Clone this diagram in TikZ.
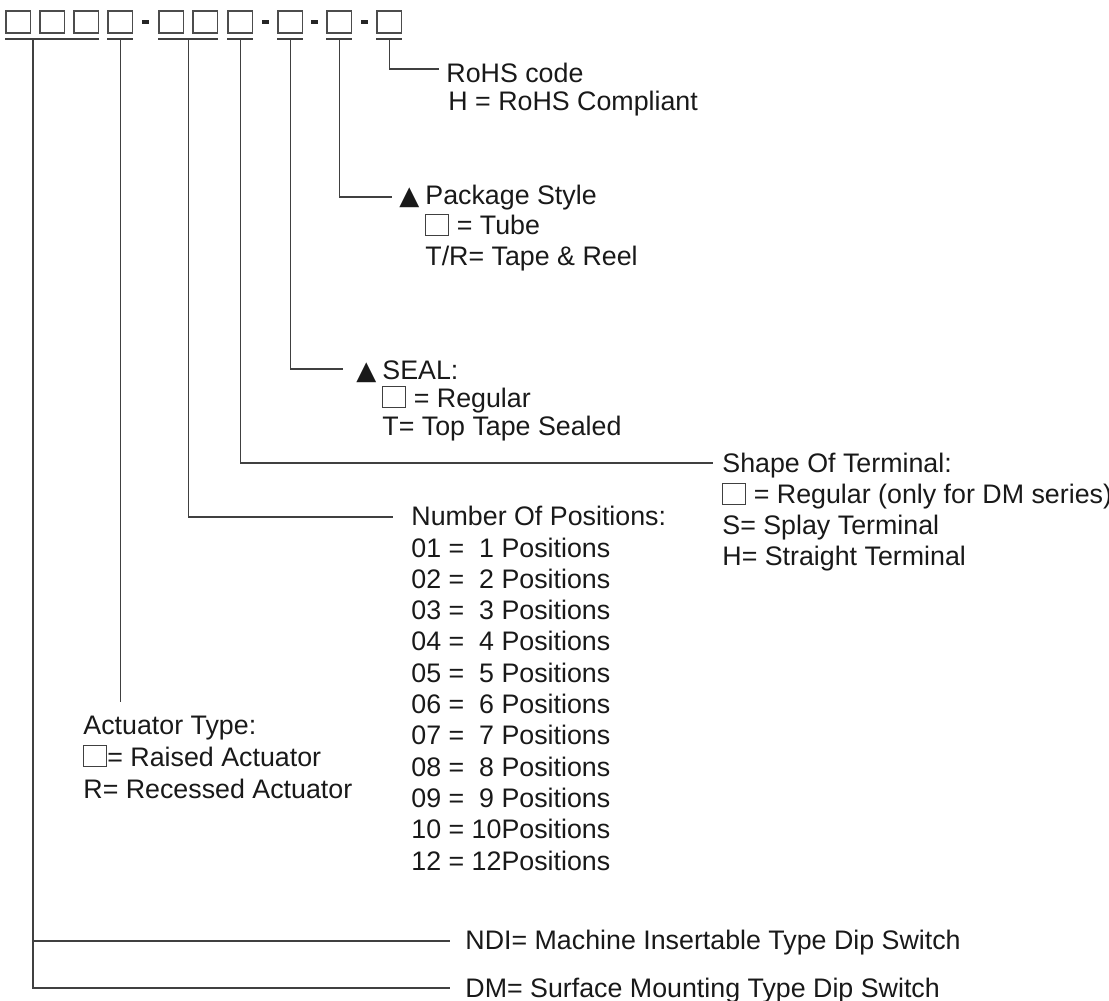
\documentclass[tikz,border=0pt]{standalone}
\usepackage{fontspec}
\setmainfont{Liberation Sans}
\newfontfamily\symfont{DejaVu Sans}
\usetikzlibrary{positioning, calc}

\newcommand{\codebox}{{\color{black!75}\setlength{\fboxsep}{0pt}\setlength{\fboxrule}{0.5pt}\fbox{\rule{0pt}{9.8pt}\hspace{11pt}}}}
\newcommand{\tri}{\llap{{\symfont\fontsize{13}{13}\selectfont ▲}\hspace{3pt}}}

\begin{document}
\begin{tikzpicture}[x=0.5pt, y=-0.5pt,
        cell/.style={draw=black!70, line width=0.6pt, rectangle, minimum width=12.25pt, minimum height=11pt, inner sep=0pt},
        hyph/.style={fill=black!85, rectangle, minimum width=3.3pt, minimum height=1.6pt, inner sep=0pt},
        lead/.style={draw=black!75, line width=0.75pt},
        txt/.style={anchor=base west, align=left, inner sep=0pt, text=black!90, font=\fontsize{13.4}{15.6}\selectfont}
    ]
    \useasboundingbox (0,0) rectangle (1109,1001);

    % --- Code cells ---
    \node[cell] (c1) at (18.25, 22) {};
    \node[cell] (c2) at (52.25, 22) {};
    \node[cell] (c3) at (86.25, 22) {};
    \node[cell] (c4) at (120.25, 22) {};
    \node[cell] (c5) at (171.25, 22) {};
    \node[cell] (c6) at (205.25, 22) {};
    \node[cell] (c7) at (240.25, 22) {};
    \node[cell] (c8) at (290.25, 22) {};
    \node[cell] (c9) at (339.25, 22) {};
    \node[cell] (c10) at (389.25, 22) {};

    % --- Hyphens ---
    \path (c4) -- (c5) node[midway, hyph] (h1) {};
    \path (c7) -- (c8) node[midway, hyph] (h2) {};
    \path (c8) -- (c9) node[midway, hyph] (h3) {};
    \path (c9) -- (c10) node[midway, hyph] (h4) {};

    % --- Underlines ---
    \coordinate (ul) at (0, 39);
    \draw[lead] (c1.west |- ul) -- (c3.east |- ul);
    \draw[lead] (c4.west |- ul) -- (c4.east |- ul);
    \draw[lead] (c5.west |- ul) -- (c6.east |- ul);
    \draw[lead] (c7.west |- ul) -- (c7.east |- ul);
    \draw[lead] (c8.west |- ul) -- (c8.east |- ul);
    \draw[lead] (c9.west |- ul) -- (c9.east |- ul);
    \draw[lead] (c10.west |- ul) -- (c10.east |- ul);

    % --- Labels (anchored at the last baseline) ---
    \node[txt, font=\fontsize{13.4}{14}\selectfont] (rohs) at (446, 110) {RoHS code\\\hspace{1pt}H = RoHS Compliant};
    \node[txt, font=\fontsize{13.4}{15.25}\selectfont] (pkg) at (425, 265) {\tri Package Style\\\codebox\ = Tube\\T/R= Tape \& Reel};
    \node[txt, font=\fontsize{13.4}{14}\selectfont] (seal) at (382, 435) {\tri SEAL:\\\codebox\ = Regular\\T= Top Tape Sealed};
    \node[txt, font=\fontsize{13.4}{15.35}\selectfont] (term) at (722, 565) {Shape Of Terminal:\\\codebox\ = Regular (only for DM series)\\S= Splay Terminal\\H= Straight Terminal};
    \node[txt, font=\fontsize{13.4}{15.65}\selectfont] (npos) at (411, 870) {Number Of Positions:\\01 =\ \ 1 Positions\\02 =\ \ 2 Positions\\03 =\ \ 3 Positions\\04 =\ \ 4 Positions\\05 =\ \ 5 Positions\\06 =\ \ 6 Positions\\07 =\ \ 7 Positions\\08 =\ \ 8 Positions\\09 =\ \ 9 Positions\\10 = 10Positions\\12 = 12Positions};
    \node[txt, font=\fontsize{13.4}{16}\selectfont] (act) at (83, 798) {Actuator Type:\\\codebox= Raised Actuator\\R= Recessed Actuator};
    \node[txt] (ndi) at (465, 949) {NDI= Machine Insertable Type Dip Switch};
    \node[txt] (dm) at (465, 997) {DM= Surface Mounting Type Dip Switch};

    % --- Leader ends ---
    \coordinate (m56) at ($(c5)!0.5!(c6)$);
    \coordinate (g13) at (33, 39);
    \coordinate (rohs-in) at (439, 69);
    \coordinate (pkg-in) at (392, 197);
    \coordinate (seal-in) at (343, 369);
    \coordinate (term-in) at (713, 463);
    \coordinate (npos-in) at (393, 517);
    \coordinate (act-end) at (120.25, 702);
    \coordinate (ndi-in) at (450, 941);
    \coordinate (dm-in) at (450, 988);

    % --- Leaders ---
    \draw[lead] (c10 |- ul) |- (rohs-in);
    \draw[lead] (c9 |- ul) |- (pkg-in);
    \draw[lead] (c8 |- ul) |- (seal-in);
    \draw[lead] (c7 |- ul) |- (term-in);
    \draw[lead] (m56 |- ul) |- (npos-in);
    \draw[lead] (c4 |- ul) -- (act-end);
    \draw[lead] (g13) |- (dm-in);
    \draw[lead] (g13 |- ndi-in) -- (ndi-in);

    \end{tikzpicture}
\end{document}
